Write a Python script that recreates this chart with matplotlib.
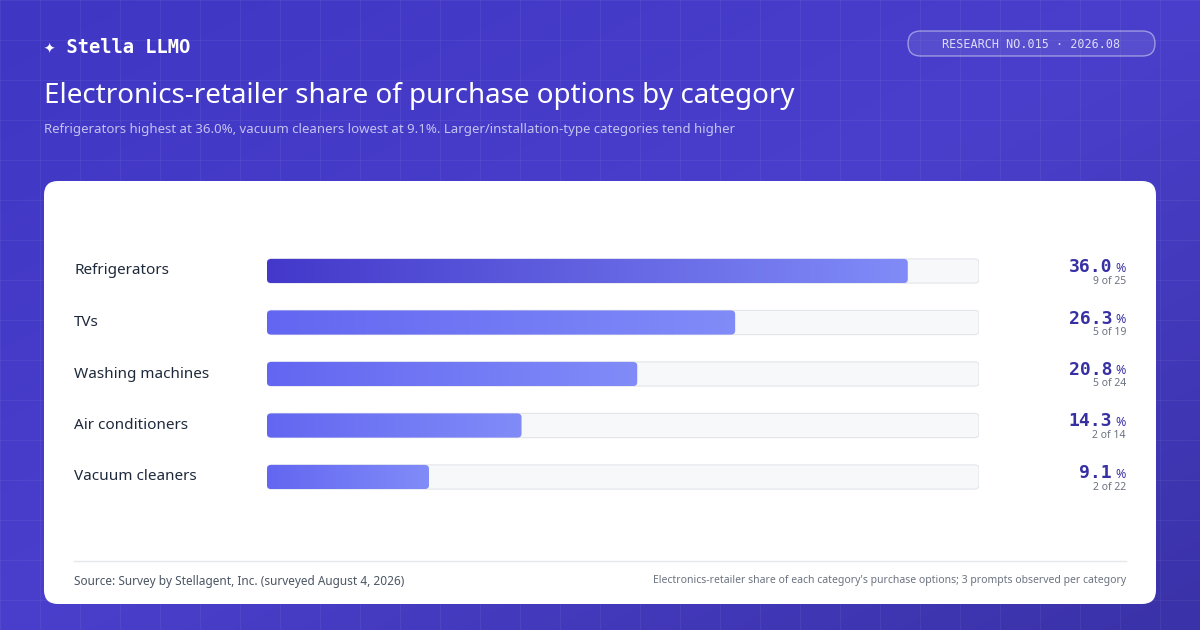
import numpy as np
import matplotlib
matplotlib.use("Agg")
import matplotlib.pyplot as plt
from matplotlib.patches import FancyBboxPatch
from matplotlib.colors import LinearSegmentedColormap

categories = ["Refrigerators", "TVs", "Washing machines", "Air conditioners", "Vacuum cleaners"]
shares = [36.0, 26.3, 20.8, 14.3, 9.1]
counts = ["9 of 25", "5 of 19", "5 of 24", "2 of 14", "2 of 22"]
axis_max = 40.0

W, H = 1200, 630
fig = plt.figure(figsize=(12, 6.3), dpi=100)
bg = fig.add_axes([0, 0, 1, 1])
bg.set_xlim(0, W); bg.set_ylim(H, 0); bg.axis("off")

# background gradient
g = np.linspace(0, 1, 256)
gx, gy = np.meshgrid(g, g)
t = 0.5 * gx + 0.5 * gy
bgcm = LinearSegmentedColormap.from_list("bg", ["#3f36c4", "#4a3fcc", "#3a32a8"])
bg.imshow(t, extent=[0, W, H, 0], cmap=bgcm, aspect="auto", zorder=0)
for x in range(0, W, 40):
    bg.plot([x, x], [0, H], color="white", alpha=0.05, lw=0.8, zorder=1)
for y in range(0, H, 40):
    bg.plot([0, W], [y, y], color="white", alpha=0.05, lw=0.8, zorder=1)

# header
bg.text(44, 47, "✦ Stella LLMO", color="white", fontsize=13.5, fontweight="bold",
        family="DejaVu Sans Mono", va="center", zorder=3)
pill = FancyBboxPatch((908, 31), 247, 25, boxstyle="round,pad=0,rounding_size=12.5",
                      fc=(1, 1, 1, 0.08), ec=(1, 1, 1, 0.45), lw=1, zorder=3)
bg.add_patch(pill)
bg.text(1031.5, 44, "RESEARCH NO.015 · 2026.08", color="#dcdcf5", fontsize=8.5,
        family="DejaVu Sans Mono", ha="center", va="center", zorder=4)
bg.text(44, 96, "Electronics-retailer share of purchase options by category", color="white",
        fontsize=20, fontweight="bold", family="Noto Sans", va="center", zorder=3)
bg.text(44, 130, "Refrigerators highest at 36.0%, vacuum cleaners lowest at 9.1%. Larger/installation-type categories tend higher",
        color="#c4c2f0", fontsize=9.5, family="Noto Sans", va="center", zorder=3)

# card
card = FancyBboxPatch((44, 181), 1112, 423, boxstyle="round,pad=0,rounding_size=14",
                      fc="white", ec="none", zorder=2)
bg.add_patch(card)
bg.plot([74, 1126], [561, 561], color="#e5e7eb", lw=1, zorder=3)
bg.text(74, 581, "Source: Survey by Stellagent, Inc. (surveyed August 4, 2026)", color="#4b5563",
        fontsize=8.5, family="Noto Sans", va="center", zorder=3)
bg.text(1126, 581, "Electronics-retailer share of each category's purchase options; 3 prompts observed per category",
        color="#6b7280", fontsize=7.5, family="Noto Sans", va="center", ha="right", zorder=3)

# bar axes
x0, x1 = 267, 979
y_top, y_bot = 245.25, 502.75
ax = fig.add_axes([x0 / W, 1 - y_bot / H, (x1 - x0) / W, (y_bot - y_top) / H])
ax.set_xlim(0, axis_max); ax.set_ylim(len(categories) - 0.5, -0.5)
ax.axis("off"); ax.patch.set_alpha(0)
bh = 0.47
for i, (c, v, n) in enumerate(zip(categories, shares, counts)):
    track = FancyBboxPatch((0, i - bh / 2), axis_max, bh,
                           boxstyle="round,pad=0,rounding_size=0.25", mutation_aspect=bh / 1.6,
                           fc="#f7f8fa", ec="#e3e5ea", lw=0.8, zorder=1)
    ax.add_patch(track)
    start = "#4338ca" if i == 0 else "#6366f1"
    cm = LinearSegmentedColormap.from_list("b%d" % i, [start, "#818cf8"])
    clip = FancyBboxPatch((0, i - bh / 2), v, bh,
                          boxstyle="round,pad=0,rounding_size=0.25", mutation_aspect=bh / 1.6,
                          fc="none", ec="none", transform=ax.transData)
    ax.add_patch(clip)
    im = ax.imshow(np.linspace(0, 1, 256)[None, :], cmap=cm, aspect="auto",
                   extent=[0, v, i + bh / 2, i - bh / 2], zorder=2)
    im.set_clip_path(clip)
    ax.set_xlim(0, axis_max); ax.set_ylim(len(categories) - 0.5, -0.5)
    ty = y_top + (i + 0.5) * (y_bot - y_top) / len(categories)
    bg.text(74, ty, c, color="#1e293b", fontsize=11, fontweight="bold",
            family="Noto Sans", va="center", zorder=3)
    bg.text(1112, ty - 4, f"{v:.1f}", color="#3730a3", fontsize=13, fontweight="bold",
            family="DejaVu Sans Mono", va="center", ha="right", zorder=3)
    bg.text(1126, ty - 3, "%", color="#3730a3", fontsize=9,
            family="Noto Sans", va="center", ha="right", zorder=3)
    bg.text(1126, ty + 10, n, color="#6b7280", fontsize=7.5, fontweight="bold",
            family="Noto Sans", va="center", ha="right", zorder=3)

fig.savefig("out.png", dpi=100)
